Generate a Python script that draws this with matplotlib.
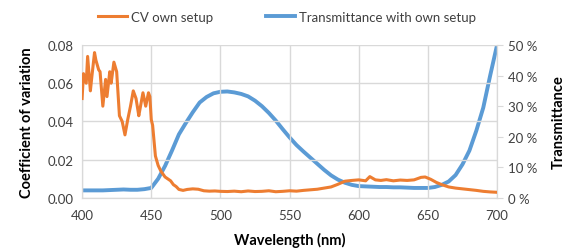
import matplotlib
matplotlib.use('Agg')
import matplotlib.pyplot as plt
from matplotlib.ticker import FuncFormatter

plt.rcParams['font.family'] = ['Lato', 'DejaVu Sans']

# CV own setup (left axis)
cv_wl = [400, 401, 403, 404, 406, 407, 409, 410, 412, 413, 415, 417, 418, 420, 421,
         423, 425, 427, 429, 431, 433, 435, 437, 439, 441, 442, 444, 446, 448, 449,
         450, 451, 452, 453, 455, 457, 460, 462, 464, 466, 468, 470, 473, 476, 480,
         484, 488, 492, 496, 500, 505, 510, 515, 520, 525, 530, 535, 540, 545, 550,
         555, 560, 565, 570, 575, 580, 585, 590, 595, 600, 605, 608, 612, 616, 620,
         625, 630, 635, 640, 645, 648, 652, 656, 660, 665, 670, 675, 680, 685, 690,
         695, 700]
cv_val = [0.052, 0.065, 0.060, 0.074, 0.056, 0.063, 0.076, 0.072, 0.067, 0.066,
          0.048, 0.062, 0.053, 0.066, 0.060, 0.071, 0.066, 0.043, 0.040, 0.033,
          0.041, 0.048, 0.056, 0.052, 0.043, 0.047, 0.055, 0.048, 0.055, 0.053,
          0.041, 0.038, 0.030, 0.022, 0.017, 0.014, 0.011, 0.010, 0.009, 0.007,
          0.006, 0.0045, 0.004, 0.0045, 0.0048, 0.0046, 0.0038, 0.0036, 0.0037, 0.0035,
          0.0034, 0.0036, 0.0033, 0.0037, 0.0034, 0.0035, 0.0038, 0.0033, 0.0035, 0.0038,
          0.0036, 0.0040, 0.0043, 0.0046, 0.0052, 0.0058, 0.0072, 0.0088, 0.0092, 0.0095,
          0.0090, 0.0112, 0.0095, 0.0092, 0.0096, 0.0090, 0.0094, 0.0092, 0.0095, 0.0108,
          0.0110, 0.0098, 0.0082, 0.0070, 0.0058, 0.0052, 0.0048, 0.0044, 0.0040, 0.0035,
          0.0032, 0.0030]

# Transmittance with own setup (right axis, %)
tr_wl = list(range(400, 705, 5))
tr_val = [2.5, 2.5, 2.5, 2.5, 2.6, 2.7, 2.8, 2.7, 2.7, 2.9,
          3.3, 6.3, 10.5, 15.5, 20.8, 24.5, 28.0, 31.2, 33.0, 34.2,
          34.7, 34.8, 34.5, 34.0, 33.2, 31.8, 30.0, 27.8, 25.3, 22.5,
          19.8, 17.3, 15.2, 13.2, 11.2, 9.2, 7.4, 6.0, 5.0, 4.3,
          3.9, 3.8, 3.7, 3.6, 3.6, 3.5, 3.5, 3.4, 3.3, 3.3,
          3.3, 3.6, 4.3, 5.4, 7.5, 11.0, 15.5, 22.0, 29.5, 40.0,
          50.0]

orange = '#ED7D31'
blue = '#5B9BD5'
grid_c = '#D9D9D9'
txt_c = '#404040'

fig = plt.figure(figsize=(5.74, 2.51), dpi=100)
ax1 = fig.add_axes([0.143, 0.207, 0.723, 0.61])
ax2 = ax1.twinx()

l1, = ax1.plot(cv_wl, cv_val, color=orange, lw=2.2, label='CV own setup', zorder=3)
l2, = ax2.plot(tr_wl, tr_val, color=blue, lw=2.8, label='Transmittance with own setup')

ax1.set_zorder(ax2.get_zorder() + 1)
ax1.patch.set_visible(False)

ax1.set_xlim(400, 700)
ax1.set_ylim(0, 0.08)
ax2.set_ylim(0, 50)
ax1.set_xticks(range(400, 701, 50))
ax1.set_yticks([0, 0.02, 0.04, 0.06, 0.08])
ax1.yaxis.set_major_formatter(FuncFormatter(lambda v, p: f'{v:.2f}'))
ax2.set_yticks(range(0, 51, 10))
ax2.yaxis.set_major_formatter(FuncFormatter(lambda v, p: f'{int(v)} %'))

ax1.grid(True, color=grid_c, lw=1)
ax1.set_axisbelow(True)

for ax in (ax1, ax2):
    for s in ax.spines.values():
        s.set_color(grid_c)
    ax.spines['top'].set_visible(False)

ax1.tick_params(axis='x', length=0, labelsize=9.5, labelcolor=txt_c, pad=8)
ax1.tick_params(axis='y', length=0, labelsize=9.5, labelcolor=txt_c, pad=6)
ax2.tick_params(axis='y', length=4, color=grid_c, labelsize=9.5, labelcolor=txt_c, pad=4)

ax1.set_xlabel('Wavelength (nm)', fontsize=10.5, fontweight='bold', color='black', labelpad=8)
ax1.set_ylabel('Coefficient of variation', fontsize=10.5, fontweight='bold', color='black', labelpad=10)
ax2.set_ylabel('Transmittance', fontsize=10.5, fontweight='bold', color='black', labelpad=10)

fig.legend(handles=[l1, l2], loc='upper center', bbox_to_anchor=(0.5, 1.0), ncol=2,
           frameon=False, fontsize=9.5, handlelength=2.2, columnspacing=4, labelcolor=txt_c,
           handletextpad=0.3)

fig.savefig('out.png', dpi=100)
